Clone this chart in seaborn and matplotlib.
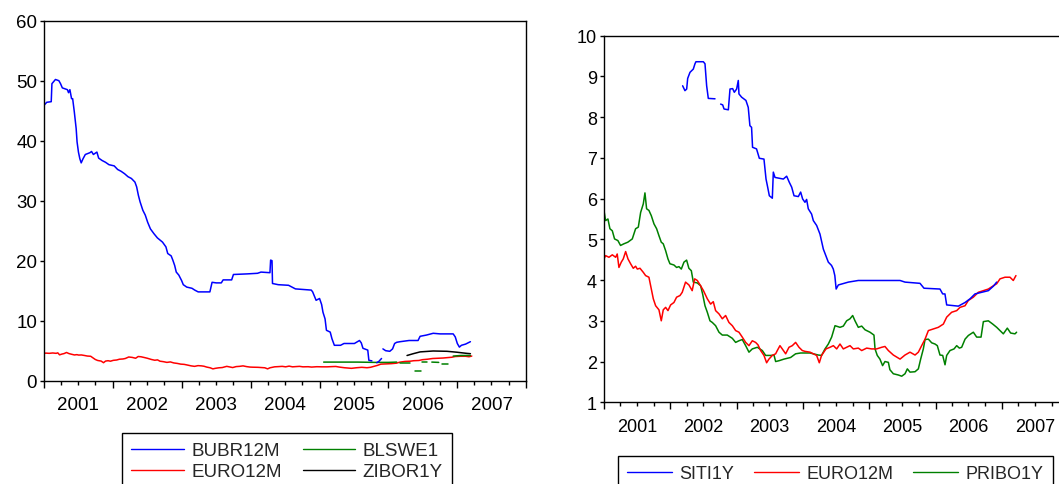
import numpy as np
import pandas as pd
import matplotlib
matplotlib.use("Agg")
import matplotlib.pyplot as plt
import matplotlib.dates as mdates
from matplotlib.lines import Line2D
import seaborn as sns

GAP = (None, None)

# (decimal year, rate in %) ; GAP marks missing observations
bubr12m = [
    (2001.00, 45.9), (2001.04, 46.4), (2001.105, 46.5), (2001.115, 49.5), (2001.166, 50.2),
    (2001.216, 50.0), (2001.24, 49.5), (2001.266, 48.8), (2001.34, 48.5), (2001.356, 48.0),
    (2001.376, 48.5), (2001.40, 47.0), (2001.416, 47.0), (2001.44, 44.8), (2001.467, 42.0),
    (2001.48, 39.8), (2001.50, 38.1), (2001.52, 37.0), (2001.54, 36.3), (2001.567, 37.0),
    (2001.60, 37.7), (2001.667, 38.0), (2001.69, 38.2), (2001.717, 37.7), (2001.768, 38.1),
    (2001.793, 37.1), (2001.843, 36.7), (2001.893, 36.4), (2001.943, 36.0), (2002.019, 35.8),
    (2002.069, 35.2), (2002.119, 34.9), (2002.169, 34.5), (2002.219, 34.0), (2002.269, 33.7),
    (2002.32, 33.1), (2002.345, 32.3), (2002.37, 30.9), (2002.395, 29.8), (2002.435, 28.4),
    (2002.47, 27.6), (2002.505, 26.4), (2002.545, 25.3), (2002.596, 24.5), (2002.646, 23.8),
    (2002.72, 23.1), (2002.77, 22.3), (2002.796, 21.2), (2002.846, 20.8), (2002.87, 20.1),
    (2002.897, 19.2), (2002.92, 18.1), (2002.957, 17.6), (2002.997, 16.7), (2003.022, 16.0),
    (2003.072, 15.6), (2003.148, 15.4), (2003.188, 15.1), (2003.238, 14.8), (2003.408, 14.8),
    (2003.44, 16.4), (2003.50, 16.3), (2003.574, 16.3), (2003.60, 16.8), (2003.724, 16.8),
    (2003.75, 17.7), (2003.95, 17.8), (2004.10, 17.9), (2004.15, 18.1), (2004.28, 18.0),
    (2004.29, 20.1), (2004.31, 20.0), (2004.317, 16.2), (2004.40, 16.0), (2004.55, 15.9),
    (2004.65, 15.3), (2004.88, 15.1), (2004.90, 14.8), (2004.95, 13.4), (2005.00, 13.7),
    (2005.03, 12.7), (2005.05, 11.4), (2005.08, 10.3), (2005.10, 8.4), (2005.155, 8.1),
    (2005.18, 7.0), (2005.215, 5.9), (2005.305, 5.9), (2005.355, 6.2), (2005.506, 6.2),
    (2005.58, 6.7), (2005.606, 6.3), (2005.63, 5.4), (2005.70, 5.1), (2005.716, 3.4),
    (2005.76, 3.3), GAP,
    (2005.83, 3.0), (2005.86, 3.2), (2005.90, 3.7), GAP,
    (2005.92, 5.3), (2005.96, 5.0), (2006.02, 4.9), (2006.06, 5.3), (2006.09, 6.2),
    (2006.12, 6.4), (2006.17, 6.5), (2006.30, 6.7), (2006.43, 6.7), (2006.46, 7.4),
    (2006.55, 7.6), (2006.65, 7.9), (2006.75, 7.8), (2006.94, 7.8), (2006.97, 7.3),
    (2007.00, 6.2), (2007.03, 5.6), (2007.06, 5.9), (2007.12, 6.1), (2007.19, 6.5),
]

blswe1 = [
    (2005.06, 3.1), (2005.30, 3.1), (2005.55, 3.1), (2005.80, 3.05), (2006.00, 3.05),
    (2006.12, 3.1), GAP,
    (2006.17, 2.9), (2006.31, 2.9), GAP,
    (2006.38, 1.6), (2006.47, 1.6), GAP,
    (2006.49, 3.1), (2006.56, 3.1), GAP,
    (2006.63, 3.1), (2006.73, 3.05), GAP,
    (2006.78, 2.85), (2006.87, 2.85), GAP,
    (2006.94, 4.1), (2007.05, 4.2), (2007.19, 4.2),
]

zibor1y = [
    (2006.27, 4.2), (2006.36, 4.5), (2006.46, 4.8), (2006.65, 4.95), (2006.85, 4.9),
    (2006.99, 4.75), (2007.14, 4.55), (2007.19, 4.5),
]

euro12m = [
    (2001.00, 4.52), (2001.025, 4.60), (2001.075, 4.56), (2001.126, 4.62), (2001.176, 4.56),
    (2001.20, 4.64), (2001.226, 4.31), (2001.261, 4.44), (2001.291, 4.52), (2001.327, 4.70),
    (2001.362, 4.52), (2001.402, 4.40), (2001.442, 4.29), (2001.477, 4.34), (2001.503, 4.27),
    (2001.543, 4.29), (2001.593, 4.19), (2001.628, 4.11), (2001.678, 4.07), (2001.704, 3.86),
    (2001.744, 3.54), (2001.779, 3.37), (2001.829, 3.27), (2001.864, 3.00), (2001.894, 3.27),
    (2001.93, 3.33), (2001.965, 3.25), (2002.005, 3.39), (2002.055, 3.45), (2002.095, 3.58),
    (2002.146, 3.62), (2002.18, 3.70), (2002.23, 3.95), (2002.281, 3.88), (2002.33, 3.74),
    (2002.367, 4.03), (2002.407, 3.99), (2002.457, 3.86), (2002.50, 3.74), (2002.558, 3.54),
    (2002.608, 3.41), (2002.648, 3.47), (2002.683, 3.25), (2002.734, 3.17), (2002.784, 3.05),
    (2002.834, 3.13), (2002.884, 2.96), (2002.935, 2.88), (2002.985, 2.76), (2003.035, 2.72),
    (2003.085, 2.60), (2003.136, 2.47), (2003.186, 2.39), (2003.236, 2.51), (2003.286, 2.47),
    (2003.322, 2.41), (2003.362, 2.27), (2003.412, 2.15), (2003.452, 1.97), (2003.487, 2.06),
    (2003.538, 2.15), (2003.588, 2.19), (2003.613, 2.27), (2003.653, 2.39), (2003.688, 2.31),
    (2003.739, 2.19), (2003.789, 2.35), (2003.839, 2.39), (2003.889, 2.47), (2003.94, 2.35),
    (2003.99, 2.27), (2004.03, 2.25), (2004.106, 2.23), (2004.206, 2.15), (2004.246, 1.97),
    (2004.28, 2.15), (2004.347, 2.31), (2004.407, 2.35), (2004.458, 2.39), (2004.508, 2.31),
    (2004.558, 2.43), (2004.608, 2.31), (2004.658, 2.35), (2004.709, 2.39), (2004.759, 2.31),
    (2004.834, 2.33), (2004.885, 2.27), (2004.96, 2.33), (2005.035, 2.31), (2005.11, 2.31),
    (2005.186, 2.35), (2005.236, 2.37), (2005.287, 2.27), (2005.362, 2.16), (2005.463, 2.06),
    (2005.538, 2.16), (2005.613, 2.23), (2005.689, 2.16), (2005.739, 2.23), (2005.789, 2.39),
    (2005.84, 2.55), (2005.89, 2.76), (2005.965, 2.80), (2006.04, 2.84), (2006.116, 2.92),
    (2006.166, 3.09), (2006.241, 3.21), (2006.317, 3.25), (2006.367, 3.33), (2006.443, 3.37),
    (2006.493, 3.50), (2006.568, 3.58), (2006.643, 3.70), (2006.719, 3.74), (2006.794, 3.78),
    (2006.87, 3.86), (2006.92, 3.91), (2006.97, 4.03), (2007.045, 4.07), (2007.12, 4.07),
    (2007.17, 3.99), (2007.21, 4.11),
]

siti1y = [
    (2002.186, 8.77), (2002.221, 8.65), (2002.247, 8.69), (2002.262, 8.95), (2002.297, 9.10),
    (2002.347, 9.18), (2002.372, 9.31), (2002.387, 9.36), (2002.498, 9.36), (2002.523, 9.31),
    (2002.548, 8.77), (2002.573, 8.46), (2002.674, 8.45), GAP,
    (2002.759, 8.32), (2002.79, 8.30), (2002.81, 8.20), (2002.875, 8.18), (2002.90, 8.69),
    (2002.94, 8.70), (2002.965, 8.61), (2003.00, 8.69), (2003.025, 8.90), (2003.035, 8.57),
    (2003.075, 8.49), (2003.14, 8.41), (2003.175, 8.24), (2003.20, 7.79), (2003.225, 7.75),
    (2003.24, 7.26), (2003.30, 7.22), (2003.342, 6.99), (2003.412, 6.97), (2003.443, 6.48),
    (2003.463, 6.32), (2003.493, 6.07), (2003.538, 6.01), (2003.553, 6.65), (2003.578, 6.52),
    (2003.704, 6.48), (2003.754, 6.55), (2003.794, 6.40), (2003.83, 6.28), (2003.865, 6.07),
    (2003.93, 6.05), (2003.965, 6.16), (2003.995, 5.99), (2004.03, 5.91), (2004.055, 5.98),
    (2004.08, 5.75), (2004.13, 5.62), (2004.156, 5.46), (2004.206, 5.34), (2004.256, 5.13),
    (2004.307, 4.76), (2004.382, 4.44), (2004.43, 4.36), (2004.457, 4.27), (2004.48, 4.11),
    (2004.50, 3.78), (2004.533, 3.88), (2004.684, 3.95), (2004.834, 3.99), (2005.463, 3.99),
    (2005.538, 3.95), (2005.764, 3.92), (2005.824, 3.80), (2006.065, 3.78), (2006.106, 3.66),
    (2006.14, 3.66), (2006.166, 3.39), (2006.342, 3.36), (2006.443, 3.45), (2006.518, 3.54),
    (2006.593, 3.66), (2006.694, 3.70), (2006.794, 3.74), (2006.87, 3.85), (2006.92, 3.95),
]

pribo1y = [
    (2001.00, 5.71), (2001.025, 5.46), (2001.06, 5.50), (2001.09, 5.26), (2001.126, 5.21),
    (2001.16, 5.01), (2001.21, 4.97), (2001.25, 4.85), (2001.30, 4.89), (2001.36, 4.93),
    (2001.427, 5.01), (2001.477, 5.26), (2001.518, 5.30), (2001.553, 5.66), (2001.593, 5.87),
    (2001.618, 6.14), (2001.643, 5.75), (2001.678, 5.71), (2001.714, 5.58), (2001.754, 5.38),
    (2001.794, 5.26), (2001.829, 5.09), (2001.864, 4.93), (2001.894, 4.89), (2001.93, 4.72),
    (2001.965, 4.52), (2001.995, 4.40), (2002.055, 4.37), (2002.095, 4.31), (2002.13, 4.33),
    (2002.166, 4.27), (2002.206, 4.44), (2002.246, 4.49), (2002.28, 4.29), (2002.317, 4.23),
    (2002.347, 3.95), (2002.407, 3.93), (2002.457, 3.86), (2002.487, 3.66), (2002.523, 3.37),
    (2002.558, 3.21), (2002.598, 3.00), (2002.633, 2.96), (2002.683, 2.88), (2002.734, 2.72),
    (2002.784, 2.65), (2002.859, 2.65), (2002.935, 2.57), (2002.985, 2.47), (2003.035, 2.51),
    (2003.085, 2.54), (2003.136, 2.39), (2003.186, 2.23), (2003.236, 2.31), (2003.312, 2.35),
    (2003.387, 2.27), (2003.437, 2.15), (2003.513, 2.15), (2003.563, 2.16), (2003.588, 2.00),
    (2003.638, 2.02), (2003.714, 2.06), (2003.814, 2.10), (2003.889, 2.19), (2003.965, 2.21),
    (2004.106, 2.21), (2004.23, 2.16), (2004.28, 2.15), (2004.332, 2.31), (2004.382, 2.43),
    (2004.432, 2.60), (2004.483, 2.88), (2004.558, 2.84), (2004.608, 2.87), (2004.658, 3.00),
    (2004.709, 3.05), (2004.749, 3.13), (2004.784, 3.00), (2004.834, 2.84), (2004.885, 2.87),
    (2004.935, 2.78), (2005.01, 2.72), (2005.07, 2.65), (2005.086, 2.31), (2005.12, 2.15),
    (2005.16, 2.06), (2005.20, 1.90), (2005.236, 2.00), (2005.287, 1.98), (2005.31, 1.80),
    (2005.362, 1.70), (2005.437, 1.67), (2005.488, 1.64), (2005.538, 1.70), (2005.573, 1.82),
    (2005.613, 1.74), (2005.689, 1.75), (2005.739, 1.82), (2005.774, 2.06), (2005.814, 2.31),
    (2005.84, 2.54), (2005.89, 2.55), (2005.94, 2.46), (2005.99, 2.43), (2006.025, 2.39),
    (2006.065, 2.16), (2006.106, 2.15), (2006.141, 1.92), (2006.166, 2.15), (2006.216, 2.27),
    (2006.277, 2.31), (2006.317, 2.39), (2006.357, 2.33), (2006.392, 2.35), (2006.443, 2.55),
    (2006.493, 2.64), (2006.568, 2.72), (2006.618, 2.60), (2006.684, 2.60), (2006.719, 2.98),
    (2006.794, 3.00), (2006.86, 2.92), (2006.92, 2.84), (2006.97, 2.76), (2007.02, 2.68),
    (2007.08, 2.82), (2007.13, 2.70), (2007.196, 2.68), (2007.22, 2.72),
]

year_labels = ["2001", "2002", "2003", "2004", "2005", "2006", "2007"]

BLUE, RED, GREEN, BLACK = "#0000FF", "#FF0000", "#008000", "#000000"


def to_frame(pairs):
    df = pd.DataFrame(pairs, columns=["year", "value"], dtype=float)
    df["seg"] = df["value"].isna().cumsum()
    df = df.dropna().copy()
    df["date"] = pd.Timestamp("2001-01-01") + pd.to_timedelta((df["year"] - 2001) * 365.25, unit="D")
    return df


sns.set_theme(style="ticks")
plt.rcParams["font.family"] = ["Liberation Sans", "DejaVu Sans"]
plt.rcParams["axes.linewidth"] = 1.0

fig = plt.figure(figsize=(10.59, 4.85), dpi=100)
axL = fig.add_axes([0.04155, 0.213, 0.4552, 0.7423])
axR = fig.add_axes([0.5703, 0.1685, 0.4384, 0.7559])


def draw(ax, pairs, color):
    df = to_frame(pairs)
    sns.lineplot(data=df, x="date", y="value", units="seg", estimator=None,
                 color=color, lw=1.1, ax=ax, legend=False, sort=False)


draw(axL, euro12m, RED)
draw(axL, blswe1, GREEN)
draw(axL, zibor1y, BLACK)
draw(axL, bubr12m, BLUE)

draw(axR, pribo1y, GREEN)
draw(axR, euro12m, RED)
draw(axR, siti1y, BLUE)


def style_axes(ax, ylim, yticks, fs):
    ax.set_xlim(pd.Timestamp("2001-01-01"), pd.Timestamp("2008-01-01"))
    ax.set_ylim(*ylim)
    ax.set_yticks(yticks)
    ax.set_xlabel("")
    ax.set_ylabel("")
    ax.xaxis.set_major_locator(mdates.YearLocator())
    ax.xaxis.set_minor_locator(mdates.MonthLocator(bymonth=[4, 7, 10]))
    ax.xaxis.set_major_formatter(plt.NullFormatter())
    ax.tick_params(axis="x", which="major", length=5, width=1.0, color="black", direction="out")
    ax.tick_params(axis="x", which="minor", length=3, width=1.0, color="black", direction="out")
    ax.tick_params(axis="y", which="major", length=3, width=1.0, color="black",
                   direction="out", labelsize=fs, pad=2, labelcolor="black")
    for s in ax.spines.values():
        s.set_visible(True)
        s.set_color("black")
        s.set_linewidth(1.0)
    # year labels centred within each year
    sec = ax.secondary_xaxis("bottom")
    mids = [mdates.date2num(pd.Timestamp(f"{y}-07-02")) for y in year_labels]
    sec.set_xticks(mids, labels=year_labels)
    sec.tick_params(axis="x", length=0, pad=11, labelsize=fs, labelcolor="black")
    sec.spines["bottom"].set_visible(False)


style_axes(axL, (0, 60), list(range(0, 61, 10)), 13.5)
style_axes(axR, (1, 10), list(range(1, 11)), 13)


def add_legend(names, colors, anchor, ncol, fs, hl, ls):
    handles = [Line2D([0], [0], color=c, lw=1.0) for c in colors]
    leg = fig.legend(handles, names, loc="upper left", bbox_to_anchor=anchor, ncol=ncol,
                     frameon=True, fancybox=False, edgecolor="black", framealpha=1,
                     fontsize=fs, handlelength=hl, handletextpad=0.4, columnspacing=1.1,
                     borderpad=0.5, labelspacing=ls, borderaxespad=0)
    leg.get_frame().set_linewidth(1.0)
    return leg


add_legend(["BUBR12M", "EURO12M", "BLSWE1", "ZIBOR1Y"], [BLUE, RED, GREEN, BLACK],
           (122 / 1059, 1 - 434 / 485), 2, 13.5, 2.8, 0.2)
add_legend(["SITI1Y", "EURO12M", "PRIBO1Y"], [BLUE, RED, GREEN],
           (618 / 1059, 1 - 457 / 485), 3, 13, 2.5, 0.2)

fig.savefig("out.png", dpi=100)
